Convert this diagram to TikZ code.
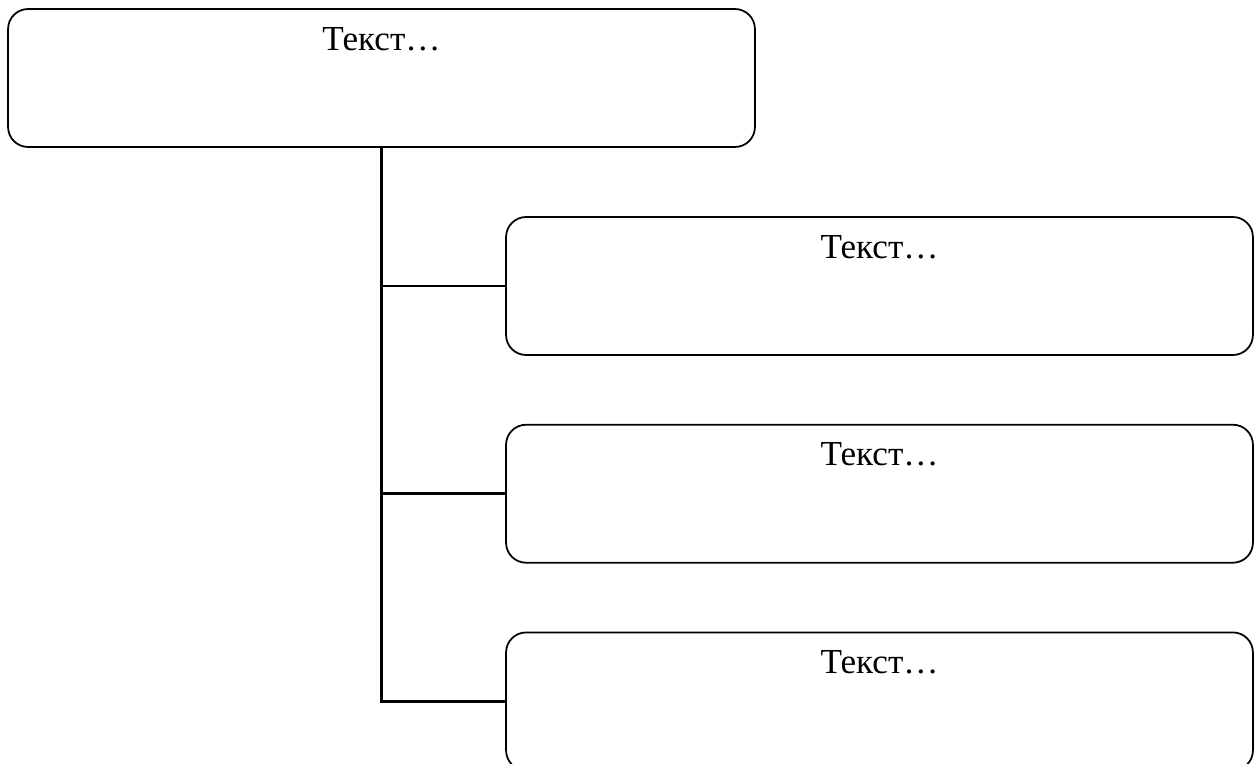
\documentclass[tikz,border=0pt]{standalone}
\usepackage{fontspec}
\setmainfont{Liberation Serif}
\usetikzlibrary{positioning}

\begin{document}
\begin{tikzpicture}[x=0.02cm,y=-0.02cm,
    box/.style={draw,rounded corners=0.4cm,line width=1pt,minimum width=14.94cm,minimum height=2.76cm},
    boxtext/.style={anchor=base,inner sep=0pt,font=\fontsize{20}{24}\selectfont},
    link/.style={line width=1.4pt}]
        \useasboundingbox (0,0) rectangle (1259,764);
        \node[box] (top) at (381.5,78) {};
        \node[box] (c1) at (879.5,286) {};
        \node[box, below=1.36cm of c1] (c2) {};
        \node[box, below=1.36cm of c2] (c3) {};
        \foreach \n in {top,c1,c2,c3}
            \node[boxtext] (t\n) at ([yshift=-0.84cm]\n.north) {Текст…};
        \draw[link] (top.south) -- (top.south |- c3.west) -- (c3.west);
        \foreach \n in {c1,c2}
            \draw[link] (top.south |- \n.west) -- (\n.west);
    \end{tikzpicture}
\end{document}
